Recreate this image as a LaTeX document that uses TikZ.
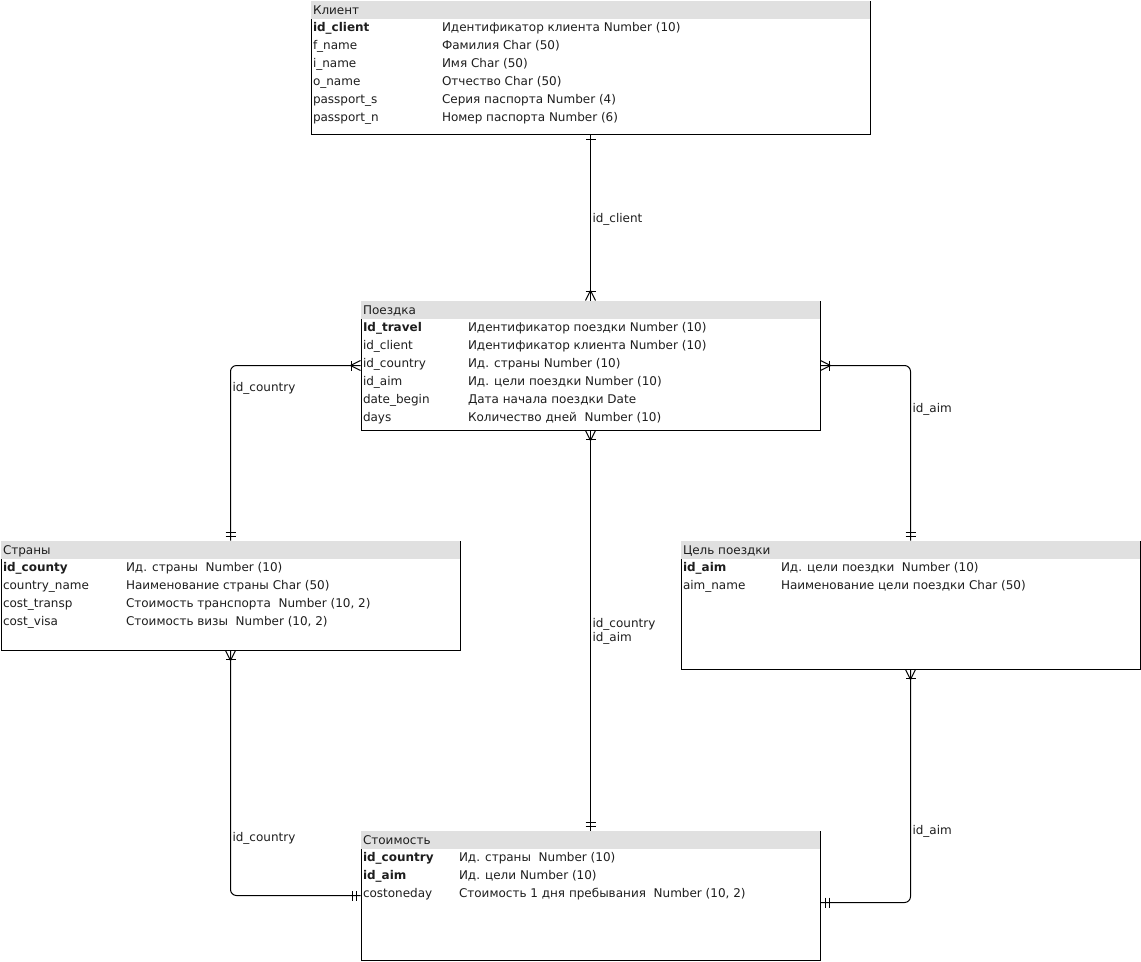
\documentclass[tikz,border=0pt]{standalone}
\usepackage{fontspec}
\setmainfont{DejaVu Sans}
\usetikzlibrary{calc,fit}
\definecolor{hdr}{RGB}{224,224,224}
\definecolor{txt}{RGB}{30,30,30}
\tikzset{
  tbl/.style={draw=black, inner sep=0pt, line width=0.75pt},
  fld/.style={anchor=base west, inner sep=0pt, text=txt, font=\fontsize{9}{11}\selectfont},
  keyf/.style={fld, font=\fontsize{9}{11}\selectfont\bfseries},
  lbl/.style={fld},
  conn/.style={draw=black, line width=0.75pt, rounded corners=4.5pt},
  ermany/.pic={\draw[line width=0.75pt] (0,-5) -- (10,0) -- (0,5); \draw[line width=0.75pt] (9,-5) -- (9,5);},
  ermand/.pic={\draw[line width=0.75pt] (4.5,-5) -- (4.5,5) (8.5,-5) -- (8.5,5);},
  erone/.pic={\draw[line width=0.75pt] (5,-5) -- (5,5);}
}
\newcommand{\erhead}[2]{%
  \fill[hdr] ([shift={(0.5,0.5)}]#1.north west) rectangle ([shift={(-0.5,18)}]#1.north east);
  \node[fld] (#1h) at ([shift={(2,14)}]#1.north west) {#2};}
\newcommand{\errow}[6]{%
  \node[#6] (#1f#2) at ([shift={(2,{13+18*#2})}]#1.north west) {#4};
  \node[fld] (#1d#2) at ([shift={(#3,{13+18*#2})}]#1.north west) {#5};}
\begin{document}
\begin{tikzpicture}[x=0.75pt,y=-0.75pt,line width=0.75pt]
\fill[white] (0,0) rectangle (1141,961);
\useasboundingbox (0,0) rectangle (1141,961);

% tables
\node[tbl, fit={(311,1) (870,134)}] (klient) {};
\node[tbl, fit={(361,301) (820,430)}] (poezdka) {};
\node[tbl, fit={(1,541) (460,650)}] (strany) {};
\node[tbl, fit={(681,541) (1140,669)}] (cel) {};
\node[tbl, fit={(361,831) (820,960)}] (stoim) {};

\erhead{klient}{Клиент}
\errow{klient}{1}{131}{id\_client}{Идентификатор клиента Number (10)}{keyf}
\errow{klient}{2}{131}{f\_name}{Фамилия Char (50)}{fld}
\errow{klient}{3}{131}{i\_name}{Имя Char (50)}{fld}
\errow{klient}{4}{131}{o\_name}{Отчество Char (50)}{fld}
\errow{klient}{5}{131}{passport\_s}{Серия паспорта Number (4)}{fld}
\errow{klient}{6}{131}{passport\_n}{Номер паспорта Number (6)}{fld}

\erhead{poezdka}{Поездка}
\errow{poezdka}{1}{107}{Id\_travel}{Идентификатор поездки Number (10)}{keyf}
\errow{poezdka}{2}{107}{id\_client}{Идентификатор клиента Number (10)}{fld}
\errow{poezdka}{3}{107}{id\_country}{Ид. страны Number (10)}{fld}
\errow{poezdka}{4}{107}{id\_aim}{Ид. цели поездки Number (10)}{fld}
\errow{poezdka}{5}{107}{date\_begin}{Дата начала поездки Date}{fld}
\errow{poezdka}{6}{107}{days}{Количество дней~ Number (10)}{fld}

\erhead{strany}{Страны}
\errow{strany}{1}{125}{id\_county}{Ид. страны~ Number (10)}{keyf}
\errow{strany}{2}{125}{country\_name}{Наименование страны Char (50)}{fld}
\errow{strany}{3}{125}{cost\_transp}{Стоимость транспорта~ Number (10, 2)}{fld}
\errow{strany}{4}{125}{cost\_visa}{Стоимость визы~ Number (10, 2)}{fld}

\erhead{cel}{Цель поездки}
\errow{cel}{1}{100}{id\_aim}{Ид. цели поездки~ Number (10)}{keyf}
\errow{cel}{2}{100}{aim\_name}{Наименование цели поездки Char (50)}{fld}

\erhead{stoim}{Стоимость}
\errow{stoim}{1}{98}{id\_country}{Ид. страны~ Number (10)}{keyf}
\errow{stoim}{2}{98}{id\_aim}{Ид. цели Number (10)}{keyf}
\errow{stoim}{3}{98}{costoneday}{Стоимость 1 дня пребывания~ Number (10, 2)}{fld}

% connectors
\coordinate (se) at ($(stoim.east)+(0,7)$);
\draw[conn] (klient.south) -- (poezdka.north);
\draw[conn] (poezdka.west) -| (strany.north);
\draw[conn] (poezdka.east) -| (cel.north);
\draw[conn] (poezdka.south) -- (stoim.north);
\draw[conn] (strany.south) |- (stoim.west);
\draw[conn] (cel.south) |- (se);

% markers
\pic[rotate=-90] at (klient.south) {erone};
\pic[rotate=90] at (poezdka.north) {ermany};
\pic[rotate=180] at (poezdka.west) {ermany};
\pic[rotate=90] at (strany.north) {ermand};
\pic at (poezdka.east) {ermany};
\pic[rotate=90] at (cel.north) {ermand};
\pic[rotate=-90] at (poezdka.south) {ermany};
\pic[rotate=90] at (stoim.north) {ermand};
\pic[rotate=-90] at (strany.south) {ermany};
\pic[rotate=180] at (stoim.west) {ermand};
\pic[rotate=-90] at (cel.south) {ermany};
\pic at (se) {ermand};

% labels
\node[lbl] (l1) at (592,222) {id\_client};
\node[lbl] (l2) at (232,391) {id\_country};
\node[lbl] (l3) at (912,412) {id\_aim};
\node[lbl] (l4a) at (592,627) {id\_country};
\node[lbl] (l4b) at (592,641) {id\_aim};
\node[lbl] (l5) at (232,841) {id\_country};
\node[lbl] (l6) at (912,834) {id\_aim};
\end{tikzpicture}
\end{document}
